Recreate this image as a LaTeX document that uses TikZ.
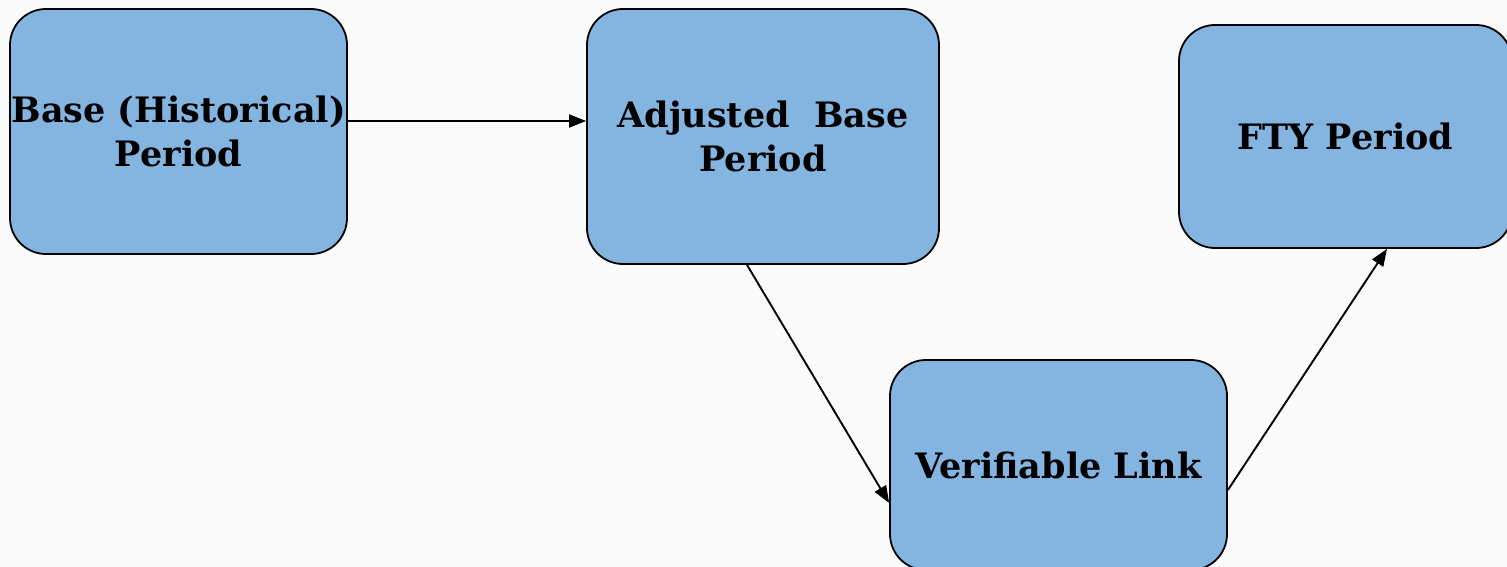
\documentclass[tikz,border=0pt]{standalone}
\usepackage{fontspec}
\setmainfont{DejaVu Serif}
\usetikzlibrary{arrows.meta,calc}
\definecolor{boxblue}{RGB}{132,180,224}
\definecolor{paper}{RGB}{251,251,251}
\tikzset{
  stage/.style={draw=black, line width=1.8pt, fill=boxblue, rounded corners=36pt,
    inner sep=0pt, align=center, font=\bfseries\fontsize{35}{44}\selectfont},
  link/.style={draw=black, line width=1.9pt, -{Triangle[length=17pt,width=13pt]}}
}
\begin{document}
\begin{tikzpicture}[x=1pt,y=-1pt]
  \clip (0,0) rectangle (1507,567);
  \fill[paper] (0,0) rectangle (1507,567);

  \node[stage, minimum width=337pt, minimum height=245pt] (b1) at (178.5,131.5)
    {Base (Historical)\\Period};
  \node[stage, minimum width=352pt, minimum height=255pt] (b2) at (763,136.5)
    {Adjusted\ \ Base\\Period};
  \node[stage, minimum width=333pt, minimum height=223pt] (b3) at (1345.5,136.5)
    {FTY Period};
  \node[stage, minimum width=337pt, minimum height=210pt] (b4) at (1058.5,465)
    {Verifiable Link};

  \draw[link] ($(b1.east)+(0,-10.5)$) -- ($(b2.west)+(0,-15.5)$);
  \draw[link] ($(b2.south)+(-16,0)$) -- ($(b4.west)+(0,38)$);
  \draw[link] ($(b4.east)+(0,25)$) -- ($(b3.south)+(41.5,0)$);
\end{tikzpicture}
\end{document}
